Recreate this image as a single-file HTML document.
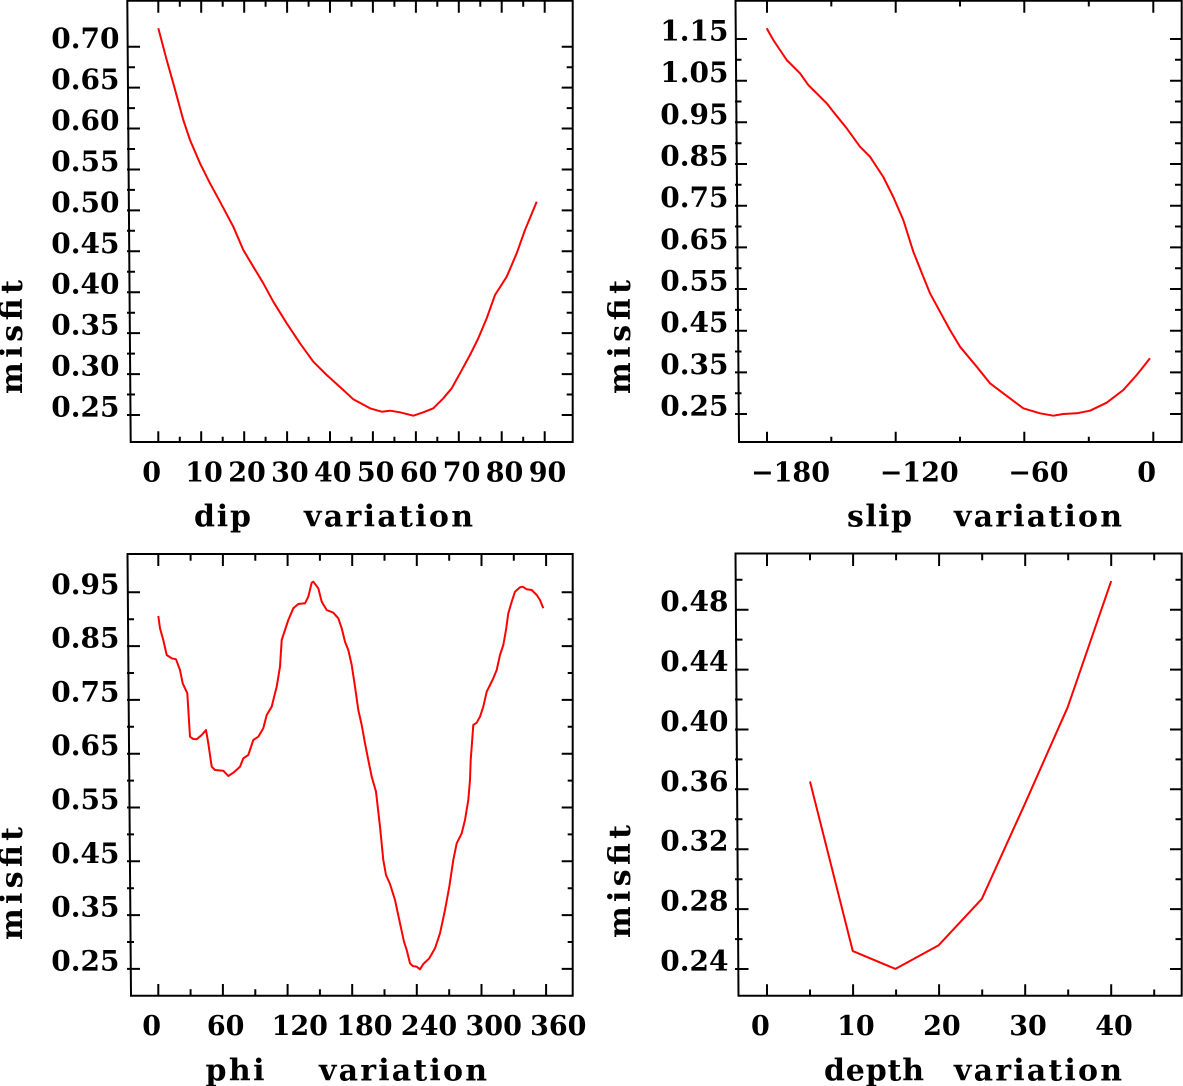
<!DOCTYPE html>
<html><head><meta charset="utf-8"><style>
html,body{margin:0;padding:0;background:#fff;}
svg{display:block;}
text{font-family:"DejaVu Serif","Liberation Serif",serif;font-weight:bold;fill:#000;}
.yl{font-size:28px;text-anchor:end;}
.xl{font-size:27px;}
.tt{font-size:30px;}
</style></head><body>
<svg width="1183" height="1086" viewBox="0 0 1183 1086" xmlns="http://www.w3.org/2000/svg">
<rect width="1183" height="1086" fill="#fff"/>
<g fill="none" stroke="#000" stroke-width="2">
<!-- frames -->
<path d="M127.3,0.75 L572.7,0.75 L572.7,442 L130.7,442 Z"/>
<path d="M735.5,0.75 L1181.7,0.75 L1181.7,442 L739,442 Z"/>
<path d="M127.5,554 L572.7,554 L572.7,995.7 L131,995.7 Z"/>
<path d="M735.5,553.5 L1181.7,553.5 L1181.7,995.7 L738.5,995.7 Z"/>
<!-- P1 ticks -->
<path d="M158.3,442V431.3M201.2,442V431.3M244.2,442V431.3M287.1,442V431.3M330,442V431.3M372.9,442V431.3M415.9,442V431.3M458.8,442V431.3M501.7,442V431.3M544.7,442V431.3
M179.8,442V436.7M222.7,442V436.7M265.6,442V436.7M308.6,442V436.7M351.5,442V436.7M394.4,442V436.7M437.3,442V436.7M480.3,442V436.7M523.2,442V436.7
M158.3,0V12.7M201.2,0V12.7M244.2,0V12.7M287.1,0V12.7M330,0V12.7M372.9,0V12.7M415.9,0V12.7M458.8,0V12.7M501.7,0V12.7M544.7,0V12.7
M179.8,0V6.7M222.7,0V6.7M265.6,0V6.7M308.6,0V6.7M351.5,0V6.7M394.4,0V6.7M437.3,0V6.7M480.3,0V6.7M523.2,0V6.7
M127,46.7H140M127,87.6H140M127,128.5H140M127,169.5H140M127,210.4H140M127,251.3H140M127,292.2H140M127,333.1H140M127,374.1H140M127,415H140
M127,67.2H135M127,108.1H135M127,149H135M127,189.9H135M127,230.8H135M127,271.8H135M127,312.7H135M127,353.6H135M127,394.5H135
M573,46.7H561.7M573,87.6H561.7M573,128.5H561.7M573,169.5H561.7M573,210.4H561.7M573,251.3H561.7M573,292.2H561.7M573,333.1H561.7M573,374.1H561.7M573,415H561.7
M573,67.2H566.7M573,108.1H566.7M573,149H566.7M573,189.9H566.7M573,230.8H566.7M573,271.8H566.7M573,312.7H566.7M573,353.6H566.7M573,394.5H566.7"/>
<!-- P2 ticks -->
<path d="M767,442V431.7M895.7,442V431.7M1024.3,442V431.7M1153.3,442V431.7
M831.3,442V436.7M960,442V436.7M1088.8,442V436.7
M767,0V12.7M895.7,0V12.7M1024.3,0V12.7M1153.3,0V12.7
M831.3,0V6.5M960,0V6.5M1088.8,0V6.5
M735,39H747M735,80.7H747M735,122.3H747M735,164H747M735,205.7H747M735,247.4H747M735,289H747M735,330.7H747M735,372.4H747M735,414H747
M735,59.8H741.5M735,101.5H741.5M735,143.2H741.5M735,184.8H741.5M735,226.5H741.5M735,268.2H741.5M735,309.9H741.5M735,351.5H741.5M735,393.2H741.5
M1182,39H1170M1182,80.7H1170M1182,122.3H1170M1182,164H1170M1182,205.7H1170M1182,247.4H1170M1182,289H1170M1182,330.7H1170M1182,372.4H1170M1182,414H1170
M1182,59.8H1175M1182,101.5H1175M1182,143.2H1175M1182,184.8H1175M1182,226.5H1175M1182,268.2H1175M1182,309.9H1175M1182,351.5H1175M1182,393.2H1175"/>
<!-- P3 ticks -->
<path d="M158.3,995.7V984M222.9,995.7V984M287.6,995.7V984M352.2,995.7V984M416.8,995.7V984M481.5,995.7V984M546.1,995.7V984
M190.6,995.7V989.3M255.3,995.7V989.3M319.9,995.7V989.3M384.5,995.7V989.3M449.2,995.7V989.3M513.8,995.7V989.3
M158.3,554V566M222.9,554V566M287.6,554V566M352.2,554V566M416.8,554V566M481.5,554V566M546.1,554V566
M190.6,554V560.7M255.3,554V560.7M319.9,554V560.7M384.5,554V560.7M449.2,554V560.7M513.8,554V560.7
M127,592.3H140M127,646.1H140M127,699.9H140M127,753.7H140M127,807.5H140M127,861.3H140M127,915.1H140M127,968.9H140
M127,619.2H134M127,673H134M127,726.8H134M127,780.6H134M127,834.4H134M127,888.2H134M127,942H134
M573,592.3H561.7M573,646.1H561.7M573,699.9H561.7M573,753.7H561.7M573,807.5H561.7M573,861.3H561.7M573,915.1H561.7M573,968.9H561.7
M573,619.2H567.7M573,673H567.7M573,726.8H567.7M573,780.6H567.7M573,834.4H567.7M573,888.2H567.7M573,942H567.7"/>
<!-- P4 ticks -->
<path d="M767,995.7V984.3M853.1,995.7V984.3M939.1,995.7V984.3M1025.2,995.7V984.3M1111.2,995.7V984.3
M810,995.7V989.5M896.1,995.7V989.5M982.2,995.7V989.5M1068.2,995.7V989.5M1154.2,995.7V989.5
M767,553V566M853.1,553V566M939.1,553V566M1025.2,553V566M1111.2,553V566
M810,553V560.2M896.1,553V560.2M982.2,553V560.2M1068.2,553V560.2M1154.2,553V560.2
M735,609.7H748.5M735,669.6H748.5M735,729.5H748.5M735,789.3H748.5M735,849.2H748.5M735,909.1H748.5M735,969H748.5
M735,579.8H742.5M735,639.6H742.5M735,699.5H742.5M735,759.4H742.5M735,819.3H742.5M735,879.2H742.5M735,939.1H742.5
M1182,609.7H1170M1182,669.6H1170M1182,729.5H1170M1182,789.3H1170M1182,849.2H1170M1182,909.1H1170M1182,969H1170
M1182,579.8H1175.5M1182,639.6H1175.5M1182,699.5H1175.5M1182,759.4H1175.5M1182,819.3H1175.5M1182,879.2H1175.5M1182,939.1H1175.5"/>
</g>
<!-- curves -->
<g fill="none" stroke="#ff0000" stroke-width="2" stroke-linejoin="round">
<polyline points="158.3,28.3 166.7,60 173.3,83.3 183.3,120 190,140 200,163.3 210,183.3 220,201.7 233.3,226.7 243.3,250 253.3,266.7 263.3,283.3 273.3,301.7 286.7,323.3 300,343.3 313.3,361.7 326.7,375 343.3,390 353.3,399.3 370,408.3 381.7,411.7 390,410.7 400,412.3 413.3,415.7 423.3,412.3 433.3,408.3 443.3,398.3 451.7,388.3 460,373.3 470,355 478.3,338.3 486.7,318.3 495,295 506.7,276.7 516.7,253.3 525,230 536.7,201.7"/>
<polyline points="766.7,28.3 773.3,40 786.7,60 800,73.3 808.3,85 826.7,103.3 833.3,111.7 846.7,128.3 860,146.7 870,156.7 883.3,177 893.3,197 903.3,220 913.3,251.7 923.3,276.7 930,293.3 940,311.7 950,330 960,346.7 976.7,366.7 990,383.3 1003.3,393.3 1023.3,408.3 1040,413.3 1053.3,415.7 1063.3,414 1076.7,413.3 1090,410.7 1106.7,402.7 1123.3,390 1136.7,375 1150,358.3"/>
<polyline points="158.3,616 160,628.3 163.3,640 166.7,655 171.7,658.3 176,659.3 180,670 182.7,683.3 187.3,693.3 190,736.7 193.3,739 196.7,739.3 201.7,735 206,730 208.3,743.3 211.7,766.7 215,770 223.3,770.7 228.3,776 233.3,772.7 240,766.7 243.3,758.3 248.3,755 253.3,740 258.3,736.7 263.3,728.3 266.7,715 271.7,706.7 275,693.3 276.7,686.7 280,666.7 281.7,640 285,630 288.3,620 293.3,608.3 298.3,604 305,603.3 308.3,596.7 311.7,582.7 313.3,581.7 318.3,588.3 321.7,601.7 326.7,610 333.3,612.7 338.3,618.3 341.7,628.3 345,641.7 348.3,650 351.7,665 355,686.7 358.3,710 361.7,725 365,743.3 368.3,760 371.7,776.7 376,791.7 380,826.7 383.3,860 386,875 390,884 395,900 400,923.3 404,941.7 406.7,950 410,963.3 412.7,966 416.7,966.7 420,969.3 423.3,964 429.3,958.3 435,948.3 440,933.3 445,910 449.3,886.7 453.3,860 456.7,843.3 461.7,833.3 465,820 468.3,800 470,780 470.7,760 471.7,746.7 473.3,725 476.7,722.7 480,716.7 483.3,706.7 486.7,691.7 490,685 493.3,678.3 496.7,670 500,655 503.3,645 506,630 508.3,613.3 511.7,601.7 515,591.7 520,587.3 522.7,586.7 526.7,589.3 531.7,590 536.7,595 540,600 543.3,608.3"/>
<polyline points="810,781.5 852.8,951.1 895.5,968.9 938.7,945.2 981.8,898.9 1024.9,803.8 1067.7,707.2 1111.2,581.1"/>
</g>
<!-- P1 labels -->
<text class="yl" x="119.5" y="48.2">0.70</text>
<text class="yl" x="119.5" y="89.1">0.65</text>
<text class="yl" x="119.5" y="130">0.60</text>
<text class="yl" x="119.5" y="171">0.55</text>
<text class="yl" x="119.5" y="211.9">0.50</text>
<text class="yl" x="119.5" y="252.8">0.45</text>
<text class="yl" x="119.5" y="293.7">0.40</text>
<text class="yl" x="119.5" y="334.6">0.35</text>
<text class="yl" x="119.5" y="375.6">0.30</text>
<text class="yl" x="119.5" y="416.5">0.25</text>
<text class="xl" x="142.3" y="481.5">0</text>
<text class="xl" x="185.2" y="481.5">10</text>
<text class="xl" x="228.2" y="481.5">20</text>
<text class="xl" x="271.1" y="481.5">30</text>
<text class="xl" x="314" y="481.5">40</text>
<text class="xl" x="356.9" y="481.5">50</text>
<text class="xl" x="399.9" y="481.5">60</text>
<text class="xl" x="442.8" y="481.5">70</text>
<text class="xl" x="485.7" y="481.5">80</text>
<text class="xl" x="528.7" y="481.5">90</text>
<text class="tt" x="194" y="526.7" textLength="57" lengthAdjust="spacing">dip</text>
<text class="tt" x="304" y="526.7" textLength="169" lengthAdjust="spacing">variation</text>
<text class="tt" transform="translate(22,394) rotate(-90)" x="0" y="0" textLength="114" lengthAdjust="spacing">misfit</text>
<!-- P2 labels -->
<text class="yl" x="728.5" y="40.5">1.15</text>
<text class="yl" x="728.5" y="82.2">1.05</text>
<text class="yl" x="728.5" y="123.8">0.95</text>
<text class="yl" x="728.5" y="165.5">0.85</text>
<text class="yl" x="728.5" y="207.2">0.75</text>
<text class="yl" x="728.5" y="248.9">0.65</text>
<text class="yl" x="728.5" y="290.5">0.55</text>
<text class="yl" x="728.5" y="332.2">0.45</text>
<text class="yl" x="728.5" y="373.9">0.35</text>
<text class="yl" x="728.5" y="415.5">0.25</text>
<text class="xl" x="751" y="481.5">−180</text>
<text class="xl" x="879.7" y="481.5">−120</text>
<text class="xl" x="1008.3" y="481.5">−60</text>
<text class="xl" x="1137.3" y="481.5">0</text>
<text class="tt" x="847" y="526.7" textLength="65" lengthAdjust="spacing">slip</text>
<text class="tt" x="954" y="526.7" textLength="168" lengthAdjust="spacing">variation</text>
<text class="tt" transform="translate(630,394) rotate(-90)" x="0" y="0" textLength="114" lengthAdjust="spacing">misfit</text>
<!-- P3 labels -->
<text class="yl" x="119.5" y="593.8">0.95</text>
<text class="yl" x="119.5" y="647.6">0.85</text>
<text class="yl" x="119.5" y="701.4">0.75</text>
<text class="yl" x="119.5" y="755.2">0.65</text>
<text class="yl" x="119.5" y="809">0.55</text>
<text class="yl" x="119.5" y="862.8">0.45</text>
<text class="yl" x="119.5" y="916.6">0.35</text>
<text class="yl" x="119.5" y="970.4">0.25</text>
<text class="xl" x="142.3" y="1035.2">0</text>
<text class="xl" x="206.9" y="1035.2">60</text>
<text class="xl" x="271.6" y="1035.2">120</text>
<text class="xl" x="336.2" y="1035.2">180</text>
<text class="xl" x="400.8" y="1035.2">240</text>
<text class="xl" x="465.5" y="1035.2">300</text>
<text class="xl" x="530.1" y="1035.2">360</text>
<text class="tt" x="205.5" y="1080.3" textLength="59" lengthAdjust="spacing">phi</text>
<text class="tt" x="319" y="1080.3" textLength="168" lengthAdjust="spacing">variation</text>
<text class="tt" transform="translate(22,940) rotate(-90)" x="0" y="0" textLength="113" lengthAdjust="spacing">misfit</text>
<!-- P4 labels -->
<text class="yl" x="728.5" y="611.2">0.48</text>
<text class="yl" x="728.5" y="671.1">0.44</text>
<text class="yl" x="728.5" y="731">0.40</text>
<text class="yl" x="728.5" y="790.8">0.36</text>
<text class="yl" x="728.5" y="850.7">0.32</text>
<text class="yl" x="728.5" y="910.6">0.28</text>
<text class="yl" x="728.5" y="970.5">0.24</text>
<text class="xl" x="751" y="1035.2">0</text>
<text class="xl" x="837.1" y="1035.2">10</text>
<text class="xl" x="923.1" y="1035.2">20</text>
<text class="xl" x="1009.2" y="1035.2">30</text>
<text class="xl" x="1095.2" y="1035.2">40</text>
<text class="tt" x="824" y="1080.3" textLength="100" lengthAdjust="spacing">depth</text>
<text class="tt" x="954" y="1080.3" textLength="168" lengthAdjust="spacing">variation</text>
<text class="tt" transform="translate(630,938) rotate(-90)" x="0" y="0" textLength="113" lengthAdjust="spacing">misfit</text>
</svg>
</body></html>
